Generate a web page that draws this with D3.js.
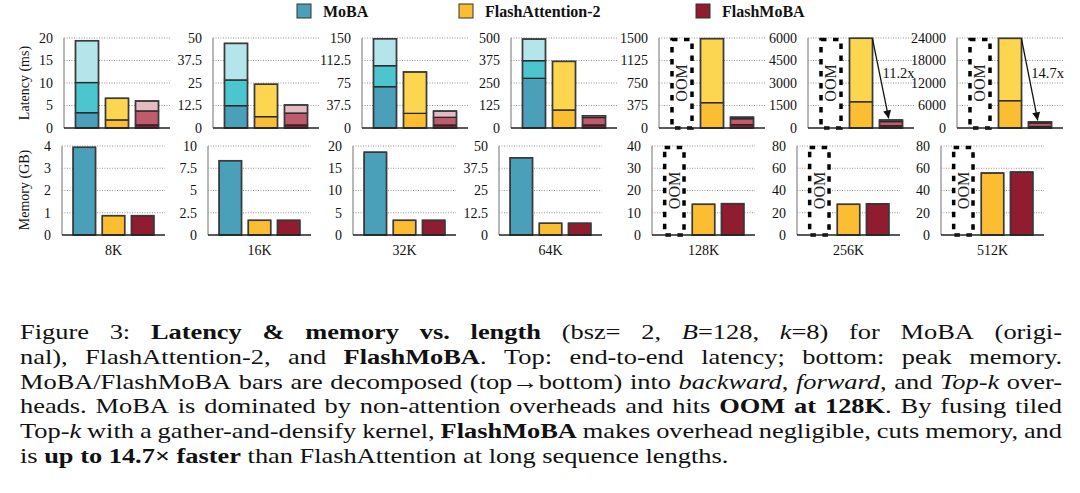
<!DOCTYPE html>
<html><head><meta charset="utf-8">
<script src="https://cdn.jsdelivr.net/npm/d3@7"></script>
<style>body{margin:0;background:#fff}svg{display:block}</style>
</head><body><svg id="c" width="1080" height="493"></svg>
<script>
// ---------- data ----------
const lengths = ["8K","16K","32K","64K","128K","256K","512K"];
const seriesNames = ["MoBA","FlashAttention-2","FlashMoBA"];
const latMax = [20,50,150,500,1500,6000,24000];
const latTicks = [[0,5,10,15,20],[0,12.5,25,37.5,50],[0,37.5,75,112.5,150],[0,125,250,375,500],[0,375,750,1125,1500],[0,1500,3000,4500,6000],[0,6000,12000,18000,24000]];
// MoBA latency parts (ms); null = OOM
const mobaTopk = [3.4,12.4,68.8,276,null,null,null];
const mobaFwd  = [6.7,14.3,35,98,null,null,null];
const mobaBwd  = [9.3,20.3,45,120,null,null,null];
// FlashAttention-2 latency parts
const faFwd = [1.8,6.3,24.4,100,422,1750,7280];
const faBwd = [4.8,18,69,270,1068,4230,16620];
// FlashMoBA latency parts
const fmTopk = [0.7,1.7,5,17,55,150,400];
const fmFwd  = [3.1,6.6,12.8,41,100,280,900];
const fmBwd  = [2.2,4.5,10.5,10,25,104,326];
const speedups = [null,null,null,null,null,"11.2x","14.7x"];
// Memory (GB)
const memMax = [4,10,20,50,40,80,80];
const memTicks = [[0,1,2,3,4],[0,2.5,5,7.5,10],[0,5,10,15,20],[0,12.5,25,37.5,50],[0,10,20,30,40],[0,20,40,60,80],[0,20,40,60,80]];
const mobaMem = [3.94,8.35,18.6,43.4,null,null,null];
const faMem   = [0.87,1.65,3.3,6.6,13.8,27.6,55.7];
const fmMem   = [0.87,1.65,3.3,6.6,14.1,28.1,56.6];

const captionLines = [
 "Figure 3: **Latency & memory vs. length** (bsz= 2, *B*=128, *k*=8) for MoBA (origi-",
 "nal), FlashAttention-2, and **FlashMoBA**. Top: end-to-end latency; bottom: peak memory.",
 "MoBA/FlashMoBA bars are decomposed (top→bottom) into *backward*, *forward*, and *Top-k* over-",
 "heads. MoBA is dominated by non-attention overheads and hits **OOM at 128K**. By fusing tiled",
 "Top-*k* with a gather-and-densify kernel, **FlashMoBA** makes overhead negligible, cuts memory, and",
 "is **up to 14.7× faster** than FlashAttention at long sequence lengths."
];

// ---------- style ----------
const serif = "'Liberation Serif','Times New Roman',Times,serif";
const C = {
  moba:["#4aa0b8","#4cc5ce","#b4e5ea"],
  fa:["#fbbd31","#fdd64f"],
  fm:["#8e1c2f","#c05b6e","#e4bac3"],
  mobaL:"#4aa0b8", faL:"#fbbd31", fmL:"#8f1c2f"
};
const topLeft = [64,213,362,511,659,808,957];
const botLeft = [62,208,353,499,652,797,941];
const topY=38, topH=90, botY=146, botH=89, topW=106, botW=103;

const svg = d3.select("#c");
const defs = svg.append("defs");
defs.append("marker").attr("id","ah").attr("viewBox","0 0 10 10").attr("refX",10).attr("refY",5)
  .attr("markerWidth",9).attr("markerHeight",8).attr("markerUnits","userSpaceOnUse").attr("orient","auto")
  .append("path").attr("d","M0,0 L10,5 L0,10 z").attr("fill","#111");

function panel(left, top, w, h, max, ticks, bars, annot) {
  const g = svg.append("g").attr("transform",`translate(${left},${top})`);
  const x = d3.scaleBand().domain(seriesNames).range([0,w]).paddingInner(0.233).paddingOuter(0.383);
  const y = d3.scaleLinear().domain([0,max]).range([h,0]);
  g.selectAll("line.grid").data(ticks.filter(t=>t>0)).join("line")
    .attr("x1",0).attr("x2",w).attr("y1",d=>y(d)).attr("y2",d=>y(d))
    .attr("stroke","#8a8a8a").attr("stroke-width",0.9).attr("stroke-dasharray","1,1.5");
  const ax = g.append("g").call(d3.axisLeft(y).tickValues(ticks).tickSize(0).tickPadding(11).tickFormat(d=>String(d)));
  ax.attr("font-family",serif).attr("font-size",14);
  ax.select(".domain").remove();
  ax.selectAll("text").attr("fill","#111");
  g.append("line").attr("x1",0).attr("x2",0).attr("y1",0).attr("y2",h).attr("stroke","#9a9a9a").attr("stroke-width",1.4);
  const bw = x.bandwidth();
  bars.forEach(b=>{
    const bx = x(b.key);
    if (b.oom) {
      g.append("rect").attr("x",bx+1.5).attr("y",1.5).attr("width",bw-3).attr("height",h-1.5)
        .attr("fill","#fff").attr("stroke","#000").attr("stroke-width",3.5).attr("stroke-dasharray","5.5,6.5");
      g.append("text").attr("transform",`translate(${bx+bw/2},${h/2}) rotate(-90)`)
        .attr("text-anchor","middle").attr("dominant-baseline","central")
        .attr("font-family",serif).attr("font-size",16).attr("fill","#222").text("OOM");
      return;
    }
    let acc = 0;
    const segs = b.vals.map((v,i)=>{const s={y0:acc,y1:acc+v,c:b.colors[i]}; acc+=v; return s;});
    g.selectAll(null).data(segs).join("rect")
      .attr("x",bx).attr("width",bw).attr("y",d=>y(d.y1)).attr("height",d=>y(d.y0)-y(d.y1))
      .attr("fill",d=>d.c).attr("stroke","#262626").attr("stroke-width",1.3);
    g.append("rect").attr("x",bx).attr("width",bw).attr("y",y(acc)).attr("height",h-y(acc))
      .attr("fill","none").attr("stroke","#3a3a3a").attr("stroke-width",1.5);
    b.total = acc;
  });
  g.append("line").attr("x1",0).attr("x2",w).attr("y1",h).attr("y2",h).attr("stroke","#222").attr("stroke-width",1.6);
  if (annot) {
    const fa = bars[1], fm = bars[2];
    const x1 = x(fa.key)+bw, y1 = y(fa.total)+0.5;
    const x2 = x(fm.key)+bw*0.4, y2 = y(fm.total)-1.5;
    g.append("line").attr("x1",x1).attr("y1",y1).attr("x2",x2).attr("y2",y2)
      .attr("stroke","#111").attr("stroke-width",1.3).attr("marker-end","url(#ah)");
    const ly = h*0.39, lx = x1 + (x2-x1)*(ly-y1)/(y2-y1) + 3;
    g.append("text").attr("x",lx).attr("y",ly).attr("dominant-baseline","central")
      .attr("font-family",serif).attr("font-size",14.5).attr("fill","#111").text(annot);
  }
  return {g,x,y};
}

lengths.forEach((L,i)=>{
  const mOom = mobaTopk[i]===null;
  panel(topLeft[i], topY, topW, topH, latMax[i], latTicks[i], [
    {key:"MoBA", oom:mOom, vals:[mobaTopk[i],mobaFwd[i],mobaBwd[i]], colors:C.moba},
    {key:"FlashAttention-2", vals:[faFwd[i],faBwd[i]], colors:C.fa},
    {key:"FlashMoBA", vals:[fmTopk[i],fmFwd[i],fmBwd[i]], colors:C.fm}
  ], speedups[i]);
  panel(botLeft[i], botY, botW, botH, memMax[i], memTicks[i], [
    {key:"MoBA", oom:mobaMem[i]===null, vals:[mobaMem[i]], colors:[C.mobaL]},
    {key:"FlashAttention-2", vals:[faMem[i]], colors:[C.faL]},
    {key:"FlashMoBA", vals:[fmMem[i]], colors:[C.fmL]}
  ], null);
  svg.append("text").attr("x",botLeft[i]+botW/2).attr("y",botY+botH+20).attr("text-anchor","middle")
    .attr("font-family",serif).attr("font-size",14).attr("fill","#111").text(L);
});

svg.append("text").attr("transform","translate(24,83) rotate(-90)").attr("text-anchor","middle").attr("dominant-baseline","central")
  .attr("font-family",serif).attr("font-size",14).attr("fill","#111").text("Latency (ms)");
svg.append("text").attr("transform","translate(24,190) rotate(-90)").attr("text-anchor","middle").attr("dominant-baseline","central")
  .attr("font-family",serif).attr("font-size",14).attr("fill","#111").text("Memory (GB)");

// legend
const legX = [297,459,696];
const legC = [C.mobaL,C.faL,C.fmL];
seriesNames.forEach((s,i)=>{
  svg.append("rect").attr("x",legX[i]).attr("y",4).attr("width",14).attr("height",14)
    .attr("fill",legC[i]).attr("stroke","#333").attr("stroke-width",1);
  svg.append("text").attr("x",legX[i]+26).attr("y",17).attr("font-family",serif).attr("font-weight","bold")
    .attr("font-size",16).attr("fill","#111").text(s);
});

// caption (justified, horizontally widened glyphs)
function parseLine(str){
  const words=[]; let cur=[]; let bold=false, ital=false, buf="";
  const flush=()=>{ if(buf){cur.push({t:buf,b:bold,i:ital}); buf="";} };
  for(let k=0;k<str.length;k++){
    const ch=str[k];
    if(ch==="*"&&str[k+1]==="*"){flush(); bold=!bold; k++; continue;}
    if(ch==="*"){flush(); ital=!ital; continue;}
    if(ch===" "){flush(); if(cur.length){words.push(cur); cur=[];} continue;}
    buf+=ch;
  }
  flush(); if(cur.length) words.push(cur);
  return words;
}
const capFS = 22, capSX = 1.2, capX0 = 20, capX1 = 1062, capY0 = 339, capDY = 24.8;
captionLines.forEach((line,li)=>{
  const words = parseLine(line);
  const lg = svg.append("g").attr("transform",`translate(${capX0},${capY0 + li*capDY}) scale(${capSX},1)`);
  const els = words.map(w=>w.map(r=>lg.append("text").attr("y",0).attr("font-family",serif)
      .attr("font-size",capFS).attr("fill","#111")
      .attr("font-weight",r.b?"bold":"normal").attr("font-style",r.i?"italic":"normal").text(r.t)));
  const widths = els.map(w=>w.map(e=>e.node().getComputedTextLength()));
  const wsum = widths.map(a=>d3.sum(a));
  const total = d3.sum(wsum);
  const avail = (capX1-capX0)/capSX;
  const last = li===captionLines.length-1;
  const gap = last ? capFS*0.25 : (avail-total)/(words.length-1);
  let xx = 0;
  els.forEach((w,wi)=>{
    let rx = xx;
    w.forEach((e,ri)=>{ e.attr("x",rx); rx += widths[wi][ri]; });
    xx += wsum[wi] + gap;
  });
});
</script></body></html>
